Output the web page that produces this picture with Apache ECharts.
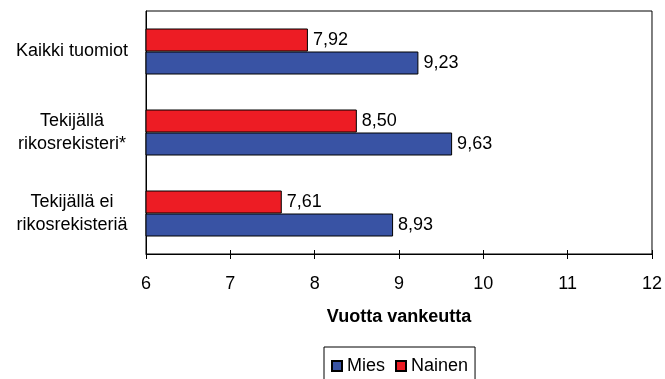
<!DOCTYPE html>
<html>
<head>
<meta charset="utf-8">
<script src="https://cdn.jsdelivr.net/npm/echarts@6/dist/echarts.min.js"></script>
<style>
  html, body { margin: 0; padding: 0; background: #fff; }
  #chart { width: 665px; height: 379px; }
</style>
</head>
<body>
<div id="chart"></div>
<script>
// Rangaistusten keskipituudet (vuotta vankeutta)
const categories = ['Kaikki tuomiot', 'Tekijällä\nrikosrekisteri*', 'Tekijällä ei\nrikosrekisteriä'];
const mies = [9.23, 9.63, 8.93];
const nainen = [7.92, 8.50, 7.61];
const seriesNames = ['Mies', 'Nainen'];
const xTicks = { min: 6, max: 12, step: 1 };
const axisTitle = 'Vuotta vankeutta';

const FONT = '"Liberation Sans", Arial, sans-serif';
const FS = 18;
const fmt = v => v.toFixed(2).replace('.', ',');

const chart = echarts.init(document.getElementById('chart'), null, { renderer: 'canvas' });

const labelStyle = {
  show: true,
  position: 'right',
  distance: 5,
  color: '#000',
  fontFamily: FONT,
  fontSize: FS,
  formatter: p => fmt(p.value)
};

chart.setOption({
  animation: false,
  backgroundColor: '#fff',
  textStyle: { fontFamily: FONT },
  grid: {
    left: 146, right: 11, top: 11, bottom: 125,
    show: true, borderColor: '#000', borderWidth: 1, backgroundColor: 'transparent'
  },
  legend: {
    data: seriesNames,
    left: 324, top: 347,
    orient: 'horizontal',
    itemWidth: 10, itemHeight: 10, itemGap: 10,
    borderColor: '#000', borderWidth: 1,
    padding: [10, 7, 6, 7],
    icon: 'rect',
    textStyle: { fontFamily: FONT, fontSize: FS, color: '#000', padding: [0, 0, 0, 0] }
  },
  xAxis: [{
    type: 'value',
    min: xTicks.min, max: xTicks.max, interval: xTicks.step,
    position: 'bottom',
    axisLine: { show: true, lineStyle: { color: '#000', width: 1 } },
    axisTick: { show: true, length: 5, lineStyle: { color: '#000' } },
    axisLabel: { color: '#000', fontFamily: FONT, fontSize: FS, margin: 21 },
    splitLine: { show: false },
    name: axisTitle,
    nameLocation: 'middle',
    nameGap: 54,
    nameTextStyle: { color: '#000', fontFamily: FONT, fontSize: FS, fontWeight: 'bold' }
  }, {
    // inward half of the crossing tick marks
    type: 'value',
    min: xTicks.min, max: xTicks.max, interval: xTicks.step,
    position: 'bottom',
    axisLine: { show: false },
    axisTick: { show: true, inside: true, length: 4, lineStyle: { color: '#000' } },
    axisLabel: { show: false },
    splitLine: { show: false }
  }],
  yAxis: {
    type: 'category',
    data: categories,
    inverse: true,
    axisLine: { show: true, lineStyle: { color: '#000', width: 1 } },
    axisTick: { show: false },
    axisLabel: { color: '#000', fontFamily: FONT, fontSize: FS, align: 'center', margin: 74, lineHeight: 23 }
  },
  series: [{
    name: seriesNames[1],
    type: 'bar',
    data: nainen,
    barWidth: 23,
    barGap: '0%',
    barCategoryGap: '43%',
    itemStyle: { color: '#ed1c24', borderColor: '#000', borderWidth: 1 },
    label: labelStyle
  }, {
    name: seriesNames[0],
    type: 'bar',
    data: mies,
    barWidth: 23,
    barGap: '0%',
    itemStyle: { color: '#3953a4', borderColor: '#000', borderWidth: 1 },
    label: labelStyle
  }]
});
</script>
</body>
</html>
